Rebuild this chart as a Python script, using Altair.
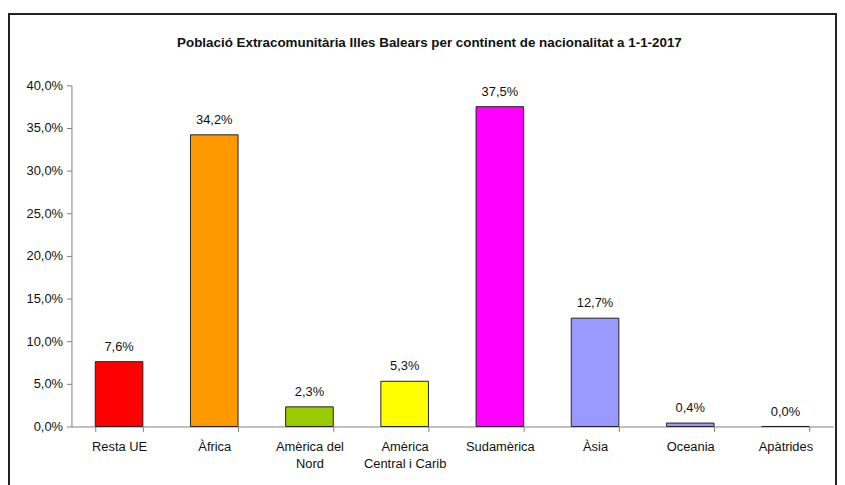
import altair as alt
import pandas as pd

categories = ["Resta UE", "Àfrica", "Amèrica del|Nord", "Amèrica|Central i Carib",
              "Sudamèrica", "Àsia", "Oceania", "Apàtrides"]
values = [0.076, 0.342, 0.023, 0.053, 0.375, 0.127, 0.004, 0.0]
colors = ["#FF0000", "#FF9900", "#99CC00", "#FFFF00", "#FF00FF", "#9999FF", "#9999FF", "#9999FF"]
title_text = "Població Extracomunitària Illes Balears per continent de nacionalitat a 1-1-2017"

df = pd.DataFrame({"cat": categories, "val": values, "col": colors})

FONT = "Liberation Sans"
FS = 13

base = alt.Chart(df).encode(
    x=alt.X("cat:N", sort=categories, title=None,
            scale=alt.Scale(paddingInner=0.5, paddingOuter=0.25),
            axis=alt.Axis(labelAngle=0, tickBand="extent", domainColor="#808080",
                          tickColor="#808080", tickSize=5, labelFont=FONT, labelFontSize=FS,
                          labelColor="#111", labelPadding=9,
                          labelExpr="split(datum.label, '|')", labelLineHeight=17)),
)

bars = base.mark_bar(stroke="#222", strokeWidth=1).encode(
    y=alt.Y("val:Q", title=None,
            scale=alt.Scale(domain=[0, 0.4], nice=False),
            axis=alt.Axis(values=[0, 0.05, 0.1, 0.15, 0.2, 0.25, 0.3, 0.35, 0.4],
                          labelExpr="replace(format(datum.value, '.1%'), '.', ',')",
                          grid=False, domainColor="#808080", tickColor="#808080",
                          tickSize=5, labelFont=FONT, labelFontSize=FS, labelColor="#111",
                          labelPadding=4)),
    color=alt.Color("col:N", scale=None),
)

labels = base.transform_calculate(
    lbl="replace(format(datum.val, '.1%'), '.', ',')"
).mark_text(baseline="bottom", dy=-8, font=FONT, fontSize=FS, color="#111").encode(
    y=alt.Y("val:Q"),
    text="lbl:N",
)

frame = alt.Chart(pd.DataFrame({"a": [0]})).mark_rect(
    filled=False, stroke="#222", strokeWidth=2
).encode(
    x=alt.value(-63), x2=alt.value(771), y=alt.value(-72), y2=alt.value(420)
)

title = alt.Chart(pd.DataFrame({"t": [title_text]})).mark_text(
    font=FONT, fontSize=13.5, fontWeight="bold", color="#111", baseline="middle", align="center"
).encode(
    x=alt.value(361), y=alt.value(-43), text="t:N"
)

chart = alt.layer(frame, bars, labels, title).properties(
    width=768, height=344,
    autosize=alt.AutoSizeParams(type="none"),
    padding={"left": 64, "top": 76, "right": 4, "bottom": 57},
).configure_view(stroke=None)

chart.save("out.html", embed_options={"renderer": "svg", "actions": False})
